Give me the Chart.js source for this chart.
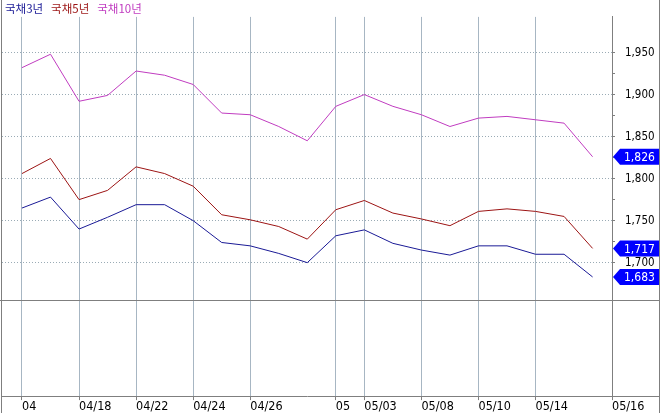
<!DOCTYPE html>
<html>
<head>
<meta charset="utf-8">
<script src="https://cdn.jsdelivr.net/npm/chart.js@4"></script>
<style>
  html, body { margin: 0; padding: 0; background: #fff; }
  #wrap { width: 662px; height: 413px; }
</style>
</head>
<body>
<div id="wrap"><canvas id="c" width="662" height="413"></canvas></div>
<script>
// 국채 금리 (3년/5년/10년)
const dates = ['04/16','04/17','04/18','04/19','04/22','04/23','04/24','04/25','04/26','04/29','04/30',
               '05/02','05/03','05/07','05/08','05/09','05/10','05/13','05/14','05/15','05/16'];
const bond3y  = [1765, 1778, 1740, 1754, 1769, 1769, 1750, 1724, 1720, 1711, 1700,
                 1732, 1739, 1723, 1715, 1709, 1720, 1720, 1710, 1710, 1683];
const bond5y  = [1806, 1824, 1775, 1786, 1814, 1806, 1791, 1757, 1751, 1743, 1728,
                 1763, 1774, 1759, 1752, 1744, 1761, 1764, 1761, 1755, 1717];
const bond10y = [1932, 1948, 1892, 1899, 1928, 1923, 1912, 1878, 1876, 1862, 1845,
                 1886, 1900, 1886, 1876, 1862, 1872, 1874, 1870, 1866, 1826];
const seriesNames = ['국채3년', '국채5년', '국채10년'];

// x축 눈금 (데이터 인덱스) 과 라벨, 마지막 라벨은 축 끝에
const xTickIdx = [0, 2, 4, 6, 8, 11, 12, 14, 16, 18];
const xTickLabels = ['04', '04/18', '04/22', '04/24', '04/26', '05', '05/03', '05/08', '05/10', '05/14', '05/16'];
// y축 눈금
const yTicks = [1700, 1725, 1750, 1775, 1800, 1825, 1850, 1875, 1900, 1925, 1950];
const yPaneSplit = 1655; // 아래쪽 빈 영역과의 경계값

const colors = ['#1a1a96', '#9c1414', '#c03cc0'];
const narrow = "'Liberation Sans Narrow', 'DejaVu Sans Condensed', sans-serif";

function fmt(v) {
  return Math.round(v).toLocaleString('en-US');
}

// 범례와 테두리, 마지막 값 라벨
const decorPlugin = {
  id: 'decor',
  afterDraw(chart) {
    const ctx = chart.ctx;
    const area = chart.chartArea;
    const y = chart.scales.y;
    const W = chart.width;

    ctx.save();
    ctx.strokeStyle = '#7f7f7f';
    ctx.lineWidth = 1;
    ctx.beginPath();
    const sy = Math.round(y.getPixelForValue(yPaneSplit)) + 0.5;
    ctx.moveTo(0, sy); ctx.lineTo(W - 2, sy);
    ctx.moveTo(area.right, Math.round(area.bottom) + 0.5); ctx.lineTo(W - 2, Math.round(area.bottom) + 0.5);
    ctx.moveTo(W - 2.5, 0); ctx.lineTo(W - 2.5, chart.height);
    ctx.moveTo(1.5, 0); ctx.lineTo(1.5, chart.height);
    ctx.stroke();

    // 범례
    ctx.font = "11.5px 'Noto Sans CJK KR', sans-serif";
    ctx.textBaseline = 'middle';
    ctx.textAlign = 'left';
    let x = 5;
    chart.data.datasets.forEach(ds => {
      ctx.fillStyle = ds.borderColor;
      ctx.fillText(ds.label, x, 9);
      x += ctx.measureText(ds.label).width + 8;
    });

    // 마지막 값 라벨
    ctx.font = '12px ' + narrow;
    chart.data.datasets.forEach(ds => {
      const last = ds.data[ds.data.length - 1];
      const py = y.getPixelForValue(last.y);
      const x0 = area.right + 1;
      ctx.fillStyle = '#0000ff';
      ctx.beginPath();
      ctx.moveTo(x0, py);
      ctx.lineTo(x0 + 7, py - 8);
      ctx.lineTo(W - 3, py - 8);
      ctx.lineTo(W - 3, py + 8);
      ctx.lineTo(x0 + 7, py + 8);
      ctx.closePath();
      ctx.fill();
      ctx.fillStyle = '#ffffff';
      ctx.fillText(fmt(last.y), x0 + 11, py + 1);
    });
    ctx.restore();
  }
};

const seriesValues = [bond3y, bond5y, bond10y];

new Chart(document.getElementById('c'), {
  type: 'line',
  data: {
    datasets: seriesValues.map((vals, i) => ({
      label: seriesNames[i],
      data: vals.map((v, j) => ({ x: j, y: v })),
      borderColor: colors[i],
      backgroundColor: colors[i],
      borderWidth: 1,
      pointRadius: 0,
      tension: 0
    }))
  },
  options: {
    responsive: false,
    animation: false,
    devicePixelRatio: 1,
    layout: { padding: { left: 2, right: 2, top: 0, bottom: 0 } },
    plugins: {
      legend: { display: false },
      tooltip: { enabled: false }
    },
    scales: {
      x: {
        type: 'linear',
        min: -0.70,
        max: 20.68,
        afterBuildTicks(scale) {
          scale.ticks = xTickIdx.map(v => ({ value: v })).concat([{ value: scale.max }]);
        },
        afterFit(scale) { scale.height = 16; },
        grid: {
          color: '#a7b6c3',
          tickColor: '#7f7f7f',
          tickLength: 4
        },
        border: { color: '#7f7f7f' },
        ticks: {
          autoSkip: false,
          maxRotation: 0,
          align: 'start',
          padding: 0,
          color: '#000',
          font: { family: narrow, size: 12.5, lineHeight: 1 },
          callback: (v, i) => xTickLabels[i]
        }
      },
      y: {
        position: 'right',
        min: 1541.25,
        max: 1992.4,
        afterBuildTicks(scale) {
          scale.ticks = yTicks.map(v => ({ value: v }));
        },
        afterFit(scale) { scale.width = 48; },
        grid: {
          color: c => (c.tick && c.tick.value % 50 === 0) ? '#9aabb5' : 'rgba(0,0,0,0)',
          tickColor: '#7f7f7f',
          tickLength: 3
        },
        border: {
          color: '#7f7f7f',
          dash: c => c.tick ? [1, 2] : []
        },
        ticks: {
          autoSkip: false,
          padding: 10,
          color: '#000',
          font: { family: narrow, size: 11.5 },
          callback: v => (v % 50 === 0) ? fmt(v) : ''
        }
      }
    }
  },
  plugins: [decorPlugin]
});
</script>
</body>
</html>
